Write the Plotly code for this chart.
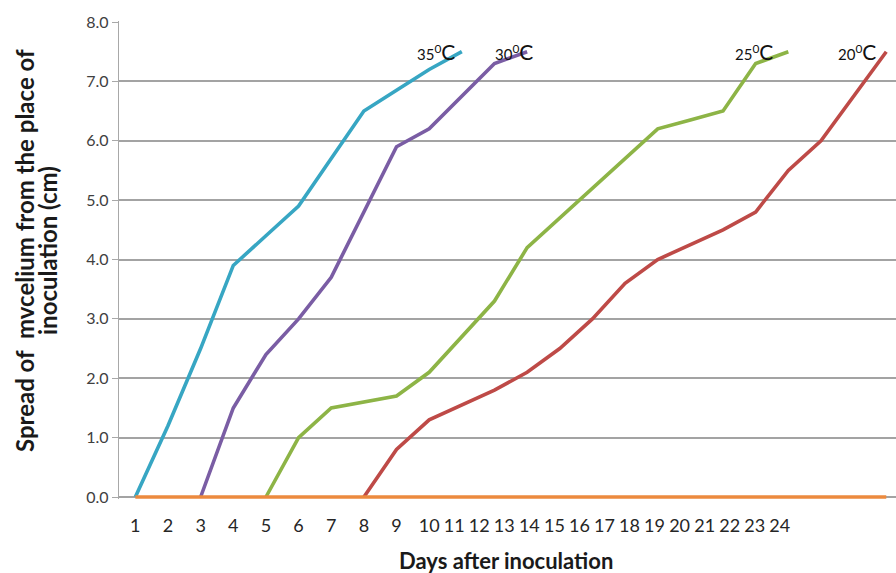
import plotly.graph_objects as go

# Mycelium spread (cm) by day after inoculation, per incubation temperature
days_35 = [1, 2, 3, 4, 5, 6, 7, 8, 9, 10, 11]
spread_35 = [0, 1.2, 2.5, 3.9, 4.4, 4.9, 5.7, 6.5, 6.85, 7.2, 7.5]

days_30 = [3, 4, 5, 6, 7, 8, 9, 10, 11, 12, 13]
spread_30 = [0, 1.5, 2.4, 3.0, 3.7, 4.8, 5.9, 6.2, 6.75, 7.3, 7.5]

days_25 = [5, 6, 7, 8, 9, 10, 11, 12, 13, 14, 15, 16, 17, 18, 19, 20, 21]
spread_25 = [0, 1.0, 1.5, 1.6, 1.7, 2.1, 2.7, 3.3, 4.2, 4.7, 5.2, 5.7, 6.2, 6.35, 6.5, 7.3, 7.5]

days_20 = [8, 9, 10, 11, 12, 13, 14, 15, 16, 17, 18, 19, 20, 21, 22, 23, 24]
spread_20 = [0, 0.8, 1.3, 1.55, 1.8, 2.1, 2.5, 3.0, 3.6, 4.0, 4.25, 4.5, 4.8, 5.5, 6.0, 6.75, 7.5]

days_base = list(range(1, 25))
spread_base = [0] * 24

tick_labels = [str(d) for d in range(1, 25)]
y_ticks = [0, 1, 2, 3, 4, 5, 6, 7, 8]

series = [
    ("35", days_35, spread_35, "#37A6C3"),
    ("30", days_30, spread_30, "#7A5DA4"),
    ("25", days_25, spread_25, "#8DB446"),
    ("20", days_20, spread_20, "#BE4A47"),
    ("base", days_base, spread_base, "#EC8A3E"),
]

fig = go.Figure()
for name, xs, ys, color in series:
    fig.add_trace(go.Scatter(x=xs, y=ys, mode="lines", name=name,
                             line=dict(color=color, width=3.6),
                             hoverinfo="x+y"))

# Tick label placement along the day axis (labels past 10 sit closer together)
tick_pos = [d if d <= 10 else 10 + (d - 10) * 0.767 for d in range(1, 25)]

# Canvas geometry
W, H = 896, 573
ml, mr, mt, mb = 119, 0, 21, 74
plot_w = W - ml - mr
plot_h = H - mt - mb
px_per_day = 32.65
x_lo = 0.5
x_hi = x_lo + plot_w / px_per_day

# y range chosen so 0 and 8 sit just inside the frame
y_top = 3808 / 475
y_span = plot_h * y_top / 476
y_lo = y_top - y_span


def px_x(px):
    return (px - ml) / plot_w


def px_y(py):
    return (mt + plot_h - py) / plot_h


font_main = "Lato, 'Liberation Sans', sans-serif"

fig.update_layout(
    width=W, height=H,
    margin=dict(l=ml, r=mr, t=mt, b=mb),
    paper_bgcolor="white", plot_bgcolor="white",
    showlegend=False,
    font=dict(family=font_main, color="#262626"),
    xaxis=dict(
        range=[x_lo, x_hi], showgrid=False, zeroline=False,
        tickmode="array", tickvals=tick_pos, ticktext=tick_labels,
        tickfont=dict(size=18, color="#262626"),
        ticks="", ticklabelstandoff=14, showline=False,
    ),
    yaxis=dict(
        range=[y_lo, y_top], tickmode="array", tickvals=y_ticks,
        tickformat=".1f", tickfont=dict(size=16, color="#404040"),
        showgrid=True, gridcolor="#A3A3A3", gridwidth=1.6,
        zeroline=False, showline=True, linecolor="#A8A8A8", linewidth=1.4,
        ticks="outside", ticklen=6, tickcolor="#A8A8A8", tickwidth=1.4,
    ),
)

# Axis titles
for line_text, cx in [("Spread of  mvcelium from the place of", 24),
                      ("inoculation (cm)", 47)]:
    fig.add_annotation(
        text=f"<b>{line_text}</b>",
        xref="paper", yref="paper", x=px_x(cx), y=px_y(251),
        textangle=-90, showarrow=False, xanchor="center", yanchor="middle",
        font=dict(size=24, color="#1a1a1a"),
    )
fig.add_annotation(
    text="<b>Days after inoculation</b>",
    xref="paper", yref="paper", x=px_x(506), y=px_y(560),
    showarrow=False, xanchor="center", yanchor="middle",
    font=dict(size=22, color="#1a1a1a"),
)

# Temperature labels at the end of each curve
temp_labels = [("35", 10.2), ("30", 12.6), ("25", 19.95), ("20", 23.1)]
for t, xpos in temp_labels:
    fig.add_annotation(
        text=f"<span style='font-size:15px'>{t}</span><sup>0</sup><span style='font-size:21px'>C</span>",
        x=xpos, y=7.5, xref="x", yref="y", showarrow=False,
        xanchor="center", yanchor="middle",
        font=dict(size=17, color="#111111"),
    )

fig.write_html("out.html")
